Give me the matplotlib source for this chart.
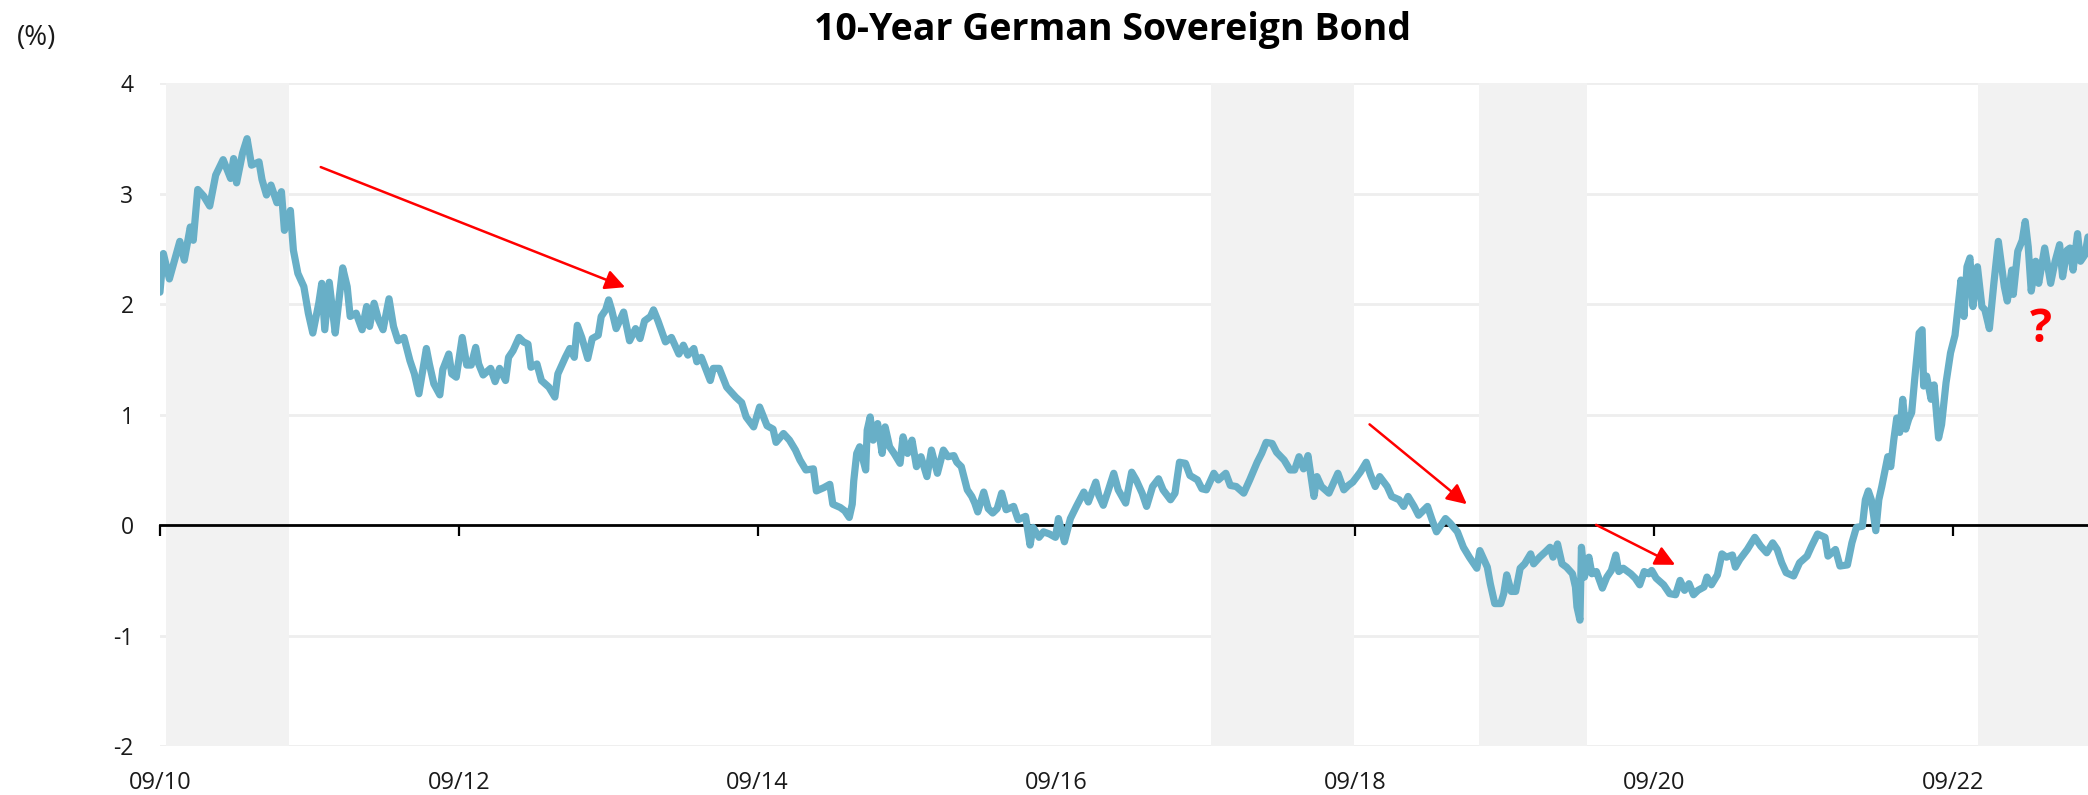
import numpy as np
import matplotlib.pyplot as plt

plt.rcParams['font.family'] = ['Open Sans', 'DejaVu Sans']

# 10-year Bund yield (%); x in decimal years
years = [
    2010.667, 2010.69, 2010.73, 2010.80, 2010.83, 2010.87, 2010.89, 2010.92, 2010.96, 2011.00,
    2011.04, 2011.09, 2011.14, 2011.16, 2011.18, 2011.22, 2011.25, 2011.28, 2011.33, 2011.35,
    2011.38, 2011.41, 2011.45, 2011.48, 2011.50, 2011.54, 2011.56, 2011.59, 2011.63, 2011.66,
    2011.69, 2011.73, 2011.75, 2011.77, 2011.80, 2011.84, 2011.86, 2011.89, 2011.92, 2011.94,
    2011.98, 2012.02, 2012.05, 2012.07, 2012.10, 2012.13, 2012.16, 2012.20, 2012.23, 2012.26,
    2012.30, 2012.34, 2012.37, 2012.40, 2012.45, 2012.47, 2012.50, 2012.54, 2012.56, 2012.60,
    2012.62, 2012.65, 2012.69, 2012.72, 2012.75, 2012.78, 2012.80, 2012.83, 2012.88, 2012.91,
    2012.94, 2012.98, 2013.00, 2013.03, 2013.07, 2013.10, 2013.13, 2013.15, 2013.19, 2013.22,
    2013.27,
    2013.31, 2013.33, 2013.38, 2013.41, 2013.44, 2013.46, 2013.49, 2013.53, 2013.56, 2013.60,
    2013.62, 2013.65, 2013.67, 2013.69, 2013.72, 2013.77, 2013.81, 2013.85, 2013.88, 2013.91,
    2013.95, 2013.97, 2014.00, 2014.05, 2014.09, 2014.14, 2014.17, 2014.20, 2014.24, 2014.26,
    2014.29, 2014.35, 2014.37, 2014.41, 2014.46, 2014.52, 2014.56, 2014.59, 2014.64, 2014.68,
    2014.73, 2014.77, 2014.79, 2014.84, 2014.88, 2014.92, 2014.95, 2014.99, 2015.04, 2015.06,
    2015.11, 2015.15, 2015.17, 2015.22, 2015.25, 2015.28, 2015.30, 2015.31, 2015.33, 2015.35,
    2015.39, 2015.40, 2015.42, 2015.44, 2015.47, 2015.50, 2015.52, 2015.55, 2015.58, 2015.62,
    2015.64, 2015.67, 2015.70, 2015.73, 2015.76, 2015.80, 2015.83, 2015.87, 2015.91, 2015.94,
    2015.98,
    2016.00, 2016.03, 2016.07, 2016.10, 2016.12, 2016.14, 2016.18, 2016.21, 2016.24, 2016.27,
    2016.30, 2016.33, 2016.38, 2016.41, 2016.46, 2016.49, 2016.51, 2016.55, 2016.58, 2016.62,
    2016.66, 2016.68, 2016.72, 2016.76, 2016.80, 2016.85, 2016.88, 2016.93, 2016.95, 2016.98,
    2017.01, 2017.05, 2017.08, 2017.13, 2017.17, 2017.20, 2017.24, 2017.27, 2017.31, 2017.35,
    2017.38, 2017.43, 2017.46, 2017.49, 2017.53, 2017.56, 2017.61, 2017.64, 2017.67, 2017.72,
    2017.75, 2017.80, 2017.83, 2017.87, 2017.92, 2017.96, 2018.01, 2018.04, 2018.07, 2018.11,
    2018.14, 2018.19, 2018.23, 2018.26, 2018.29, 2018.32, 2018.35, 2018.39, 2018.41, 2018.44,
    2018.49, 2018.52, 2018.55,
    2018.59, 2018.62, 2018.65, 2018.70, 2018.74, 2018.77, 2018.80, 2018.83, 2018.88, 2018.91,
    2018.96, 2018.99, 2019.02, 2019.06, 2019.09, 2019.15, 2019.18, 2019.21, 2019.27, 2019.30,
    2019.35, 2019.39, 2019.43, 2019.48, 2019.50, 2019.55, 2019.57, 2019.60, 2019.64, 2019.66,
    2019.68, 2019.71, 2019.74, 2019.77, 2019.80, 2019.84, 2019.86, 2019.90, 2019.94, 2019.97,
    2019.99, 2020.02, 2020.05, 2020.08, 2020.12, 2020.14, 2020.15, 2020.17, 2020.18, 2020.20,
    2020.23, 2020.25, 2020.28, 2020.32, 2020.35, 2020.38, 2020.41, 2020.43, 2020.46, 2020.51,
    2020.54, 2020.57, 2020.60, 2020.63, 2020.65, 2020.68, 2020.73, 2020.77, 2020.81, 2020.84,
    2020.87, 2020.90, 2020.93, 2020.96, 2021.00, 2021.02, 2021.05, 2021.09, 2021.12, 2021.15,
    2021.19, 2021.21,
    2021.24, 2021.29, 2021.34, 2021.38, 2021.42, 2021.46, 2021.49, 2021.52, 2021.55, 2021.60,
    2021.64, 2021.69, 2021.72, 2021.76, 2021.81, 2021.83, 2021.88, 2021.91, 2021.96, 2021.99,
    2022.02, 2022.06, 2022.08, 2022.10, 2022.12, 2022.15, 2022.17, 2022.19, 2022.23, 2022.25,
    2022.27, 2022.29, 2022.31, 2022.33, 2022.35, 2022.37, 2022.39, 2022.41, 2022.44, 2022.46,
    2022.47, 2022.49, 2022.52, 2022.54, 2022.57, 2022.59, 2022.62, 2022.65, 2022.68, 2022.72,
    2022.74, 2022.76, 2022.78, 2022.80, 2022.83, 2022.86, 2022.88, 2022.91, 2022.94, 2022.97,
    2023.01, 2023.03, 2023.06, 2023.07, 2023.10, 2023.13, 2023.15, 2023.17, 2023.19, 2023.22,
    2023.24, 2023.28, 2023.32, 2023.35, 2023.38, 2023.40, 2023.43, 2023.45, 2023.47, 2023.50,
    2023.52, 2023.55, 2023.57,
]
yields = [
    2.11, 2.46, 2.23, 2.57, 2.40, 2.70, 2.58, 3.04, 2.98, 2.89,
    3.17, 3.31, 3.14, 3.32, 3.10, 3.37, 3.50, 3.26, 3.29, 3.13,
    2.99, 3.08, 2.92, 3.02, 2.67, 2.85, 2.49, 2.28, 2.16, 1.92,
    1.74, 2.01, 2.19, 1.77, 2.20, 1.74, 1.98, 2.33, 2.16, 1.89,
    1.92, 1.77, 1.98, 1.80, 2.01, 1.86, 1.77, 2.05, 1.80, 1.67,
    1.70, 1.49, 1.37, 1.19, 1.60, 1.46, 1.28, 1.18, 1.41, 1.55,
    1.37, 1.34, 1.70, 1.45, 1.45, 1.61, 1.46, 1.36, 1.42, 1.30,
    1.42, 1.31, 1.52, 1.58, 1.70, 1.66, 1.64, 1.43, 1.46, 1.31,
    1.25,
    1.16, 1.37, 1.52, 1.60, 1.52, 1.81, 1.70, 1.51, 1.69, 1.72,
    1.89, 1.95, 2.04, 1.95, 1.78, 1.93, 1.67, 1.78, 1.69, 1.85,
    1.89, 1.95, 1.85, 1.66, 1.70, 1.55, 1.63, 1.54, 1.60, 1.48,
    1.52, 1.31, 1.42, 1.42, 1.25, 1.16, 1.11, 0.98, 0.89, 1.07,
    0.90, 0.87, 0.75, 0.83, 0.77, 0.68, 0.59, 0.50, 0.51, 0.31,
    0.34, 0.37, 0.19, 0.16, 0.13, 0.07, 0.19, 0.40, 0.65, 0.71,
    0.50, 0.86, 0.98, 0.77, 0.92, 0.65, 0.89, 0.71, 0.65, 0.56,
    0.80, 0.65, 0.77, 0.53, 0.62, 0.44, 0.68, 0.47, 0.68, 0.62,
    0.63,
    0.57, 0.53, 0.32, 0.26, 0.20, 0.12, 0.30, 0.15, 0.11, 0.15,
    0.29, 0.14, 0.17, 0.05, 0.08, -0.18, -0.02, -0.11, -0.06, -0.08,
    -0.11, 0.06, -0.15, 0.06, 0.17, 0.30, 0.21, 0.39, 0.27, 0.18,
    0.30, 0.47, 0.32, 0.20, 0.48, 0.41, 0.29, 0.17, 0.35, 0.42,
    0.32, 0.23, 0.29, 0.57, 0.56, 0.45, 0.41, 0.33, 0.32, 0.47,
    0.41, 0.47, 0.36, 0.35, 0.29, 0.41, 0.57, 0.65, 0.75, 0.74,
    0.66, 0.59, 0.50, 0.50, 0.62, 0.51, 0.63, 0.26, 0.44, 0.35,
    0.29, 0.38, 0.47,
    0.32, 0.36, 0.39, 0.48, 0.57, 0.45, 0.35, 0.44, 0.35, 0.26,
    0.23, 0.17, 0.26, 0.17, 0.09, 0.17, 0.05, -0.06, 0.06, 0.02,
    -0.06, -0.20, -0.29, -0.39, -0.23, -0.38, -0.53, -0.71, -0.71, -0.62,
    -0.45, -0.60, -0.60, -0.39, -0.35, -0.26, -0.35, -0.29, -0.24, -0.20,
    -0.29, -0.17, -0.35, -0.38, -0.44, -0.56, -0.74, -0.86, -0.20, -0.47,
    -0.29, -0.44, -0.42, -0.57, -0.47, -0.41, -0.27, -0.42, -0.39, -0.44,
    -0.48, -0.54, -0.42, -0.44, -0.41, -0.48, -0.54, -0.62, -0.63, -0.50,
    -0.59, -0.53, -0.63, -0.59, -0.56, -0.47, -0.54, -0.45, -0.26, -0.29,
    -0.27, -0.38,
    -0.31, -0.22, -0.11, -0.19, -0.25, -0.16, -0.22, -0.34, -0.43, -0.46,
    -0.34, -0.28, -0.19, -0.08, -0.11, -0.28, -0.22, -0.37, -0.36, -0.16,
    -0.02, -0.01, 0.23, 0.31, 0.23, -0.05, 0.23, 0.35, 0.62, 0.53,
    0.77, 0.97, 0.84, 1.14, 0.87, 0.96, 1.02, 1.32, 1.74, 1.77,
    1.26, 1.35, 1.14, 1.27, 0.79, 0.91, 1.29, 1.56, 1.72, 2.22,
    1.89, 2.34, 2.42, 1.98, 2.34, 1.98, 1.95, 1.78, 2.19, 2.57,
    2.16, 2.03, 2.31, 2.09, 2.48, 2.58, 2.75, 2.52, 2.12, 2.39,
    2.19, 2.51, 2.19, 2.39, 2.54, 2.25, 2.49, 2.51, 2.31, 2.64,
    2.39, 2.45, 2.61,
]

tick_pos = [2010.667, 2012.667, 2014.667, 2016.667, 2018.667, 2020.667, 2022.667]
tick_labels = ['09/10', '09/12', '09/14', '09/16', '09/18', '09/20', '09/22']
y_ticks = [-2, -1, 0, 1, 2, 3, 4]

shade_start = [2010.707, 2017.702, 2019.497, 2022.836]
shade_end = [2011.528, 2018.659, 2020.216, 2023.60]

arrow_from = [(2011.743, 3.243), (2018.762, 0.913), (2020.278, 0.003)]
arrow_to = [(2013.78, 2.155), (2019.413, 0.19), (2020.807, -0.359)]
question_pos = (2023.257, 1.77)

fig = plt.figure(figsize=(20.88, 7.95), dpi=100)
ax = fig.add_axes([0.0766, 0.0616, 0.9234, 0.8334])

for s, e in zip(shade_start, shade_end):
    ax.axvspan(s, e, color='#f2f2f2', lw=0, zorder=1)

ax.plot(years, yields, color='#68afc7', lw=5.2, solid_joinstyle='round',
        solid_capstyle='round', zorder=3)

for p0, p1 in zip(arrow_from, arrow_to):
    ax.annotate('', xy=p1, xytext=p0,
                arrowprops=dict(arrowstyle='-|>', color='#ff0000', lw=1.8,
                                mutation_scale=30, shrinkA=0, shrinkB=0),
                zorder=4)

ax.text(question_pos[0], question_pos[1], '?', color='#ff0000', fontsize=33,
        fontweight='bold', ha='center', va='center', zorder=4)

ax.set_xlim(2010.667, 2023.57)
ax.set_ylim(-2, 4)
ax.set_yticks(y_ticks)
ax.set_yticklabels([str(v) for v in y_ticks])
ax.set_xticks(tick_pos)
ax.set_xticklabels(tick_labels)
ax.grid(axis='y', color='#eeeeee', lw=2)
ax.set_axisbelow(True)
for sp in ax.spines.values():
    sp.set_visible(False)
ax.tick_params(axis='y', length=0, pad=19, labelsize=16.5, labelcolor='#1a1a1a')
ax.tick_params(axis='x', length=0, pad=18, labelsize=17, labelcolor='#1a1a1a')

# zero line with its own tick marks
sec = ax.secondary_xaxis(1 / 3)
sec.set_xticks(tick_pos)
sec.set_xticklabels([])
sec.tick_params(length=8, width=1.6, direction='out', color='black')
sec.spines['bottom'].set_linewidth(2)
sec.set_zorder(2)

fig.text(0.5326, 0.962, '10-Year German Sovereign Bond', fontsize=27,
         fontweight='bold', ha='center', va='center')
fig.text(0.0080, 0.952, '(%)', fontsize=20, ha='left', va='center', color='#1a1a1a')

fig.savefig('out.png', dpi=100)
